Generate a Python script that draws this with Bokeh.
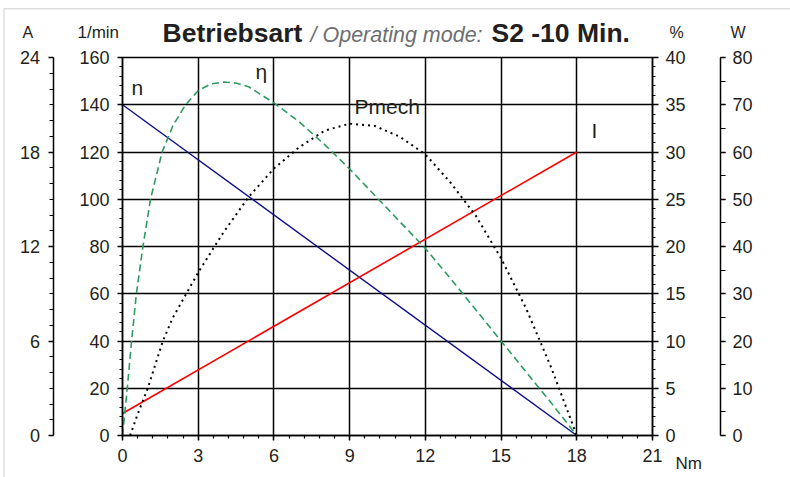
from bokeh.plotting import figure
from bokeh.models import Range1d, LinearAxis, SingleIntervalTicker, Label, Grid, BoxAnnotation
from bokeh.embed import file_html
from bokeh.resources import INLINE

# ---- data ----
torque_n = [0, 18]
speed = [140, 0]                      # 1/min

torque_i = [0, 18]
current = [1.4, 18]                   # A

torque_eta = [0, 0.19, 0.36, 0.55, 0.81, 1.11, 1.57, 2, 2.5, 3, 3.5, 4, 4.5, 5,
              6, 7, 8, 9, 10, 11, 12, 13, 14, 15, 16, 17, 18]
eta = [0, 5, 10, 15, 20, 25, 30, 32.8, 35, 36.5, 37.2, 37.4, 37.3, 36.9,
       35.2, 33.2, 30.8, 28.2, 25.4, 22.6, 19.8, 16.6, 13.3, 10, 6.7, 3.4, 0]   # %

torque_p = [0.3, 0.6, 1, 1.6, 2, 3, 4, 5, 6, 7, 8, 9, 10, 11, 12, 13, 14, 15, 16, 17, 18]
pmech = [0, 4.5, 10, 20, 25, 34.5, 43, 50.5, 56.5, 61, 64.5, 66, 65.5, 63.2, 59.5,
         53.5, 46.5, 37.5, 26.8, 14.2, 0]                                        # W

x_ticks = [0, 3, 6, 9, 12, 15, 18, 21]
y_ticks = [0, 20, 40, 60, 80, 100, 120, 140, 160]

FONT = "Liberation Sans"
TXT = "#231f20"

# the plotting frame covers the whole canvas; axes are placed at fixed locations
W_PX, H_PX = 790, 477
X0_PX, XPU = 122.0, 530.0 / 21      # px of x=0, px per Nm
Y0_PX, YPU = 435.0, 378.0 / 160     # px of y=0, px per 1/min


def xr(px):
    return (px - X0_PX) / XPU


def yr(px, scale=1.0):
    return (Y0_PX - px) / YPU * scale


p = figure(width=W_PX, height=H_PX, output_backend="svg", toolbar_location=None,
           x_range=Range1d(xr(0), xr(W_PX)), y_range=Range1d(yr(H_PX), yr(0)),
           min_border=0, min_border_left=0, min_border_right=0,
           min_border_top=0, min_border_bottom=0,
           background_fill_color="white", border_fill_color="white")
p.outline_line_color = None

p.extra_y_ranges = {
    "A": Range1d(yr(H_PX, 0.15), yr(0, 0.15)),
    "pct": Range1d(yr(H_PX, 0.25), yr(0, 0.25)),
    "W": Range1d(yr(H_PX, 0.5), yr(0, 0.5)),
}


def style_axis(ax, tick_out, minor_out, standoff):
    ax.axis_line_color = "black"
    ax.axis_line_width = 1.5
    ax.major_tick_line_color = "black"
    ax.major_tick_line_width = 1.5
    ax.minor_tick_line_color = "black"
    ax.minor_tick_line_width = 1.2
    ax.major_tick_in = 0
    ax.major_tick_out = tick_out
    ax.minor_tick_in = 0
    ax.minor_tick_out = minor_out
    ax.major_label_standoff = standoff
    ax.major_label_text_font = FONT
    ax.major_label_text_font_size = "18px"
    ax.major_label_text_color = TXT


xax = p.xaxis[0]
xax.ticker = SingleIntervalTicker(interval=3, num_minor_ticks=5)
xax.fixed_location = 0
xax.bounds = (0, 21)
style_axis(xax, 5, 3, 8)

yax = p.yaxis[0]
yax.ticker = SingleIntervalTicker(interval=20, num_minor_ticks=5)
yax.fixed_location = 0
yax.bounds = (0, 160)
style_axis(yax, 5, 3, 8)

ax_a = LinearAxis(y_range_name="A", ticker=SingleIntervalTicker(interval=6, num_minor_ticks=6),
                  fixed_location=xr(52.5), bounds=(0, 24))
style_axis(ax_a, 5, 4, 8)
p.add_layout(ax_a, "left")

ax_pct = LinearAxis(y_range_name="pct", ticker=SingleIntervalTicker(interval=5, num_minor_ticks=5),
                    fixed_location=21, bounds=(0, 40))
style_axis(ax_pct, 6, 3, 7)
p.add_layout(ax_pct, "right")

ax_w = LinearAxis(y_range_name="W", ticker=SingleIntervalTicker(interval=10, num_minor_ticks=2),
                  fixed_location=xr(720), bounds=(0, 80))
style_axis(ax_w, 5, 5, 7)
p.add_layout(ax_w, "right")

# grid limited to the chart box
if "cross_bounds" in Grid.properties():
    p.xgrid.ticker = SingleIntervalTicker(interval=3)
    p.ygrid.ticker = SingleIntervalTicker(interval=20)
    p.xgrid.bounds = (0, 21)
    p.ygrid.bounds = (0, 160)
    p.xgrid.cross_bounds = (0, 160)
    p.ygrid.cross_bounds = (0, 21)
    for g in (p.xgrid[0], p.ygrid[0]):
        g.grid_line_color = "black"
        g.grid_line_width = 1.5
        g.grid_line_alpha = 1.0
else:
    p.xgrid.visible = False
    p.ygrid.visible = False
    p.segment(x0=x_ticks, y0=[y_ticks[0]] * len(x_ticks), x1=x_ticks,
              y1=[y_ticks[-1]] * len(x_ticks), line_color="black", line_width=1.5)
    p.segment(x0=[x_ticks[0]] * len(y_ticks), y0=y_ticks, x1=[x_ticks[-1]] * len(y_ticks),
              y1=y_ticks, line_color="black", line_width=1.5)

# page frame (thin grey border at top/left)
p.add_layout(BoxAnnotation(left=xr(3.5), right=xr(W_PX + 20), top=yr(8.3), bottom=yr(H_PX + 20),
                           fill_alpha=0, line_color="#5e5e5e", line_width=1))

# curves
p.line(torque_n, speed, line_color="#0d0d8a", line_width=1.4)
p.line(torque_i, current, y_range_name="A", line_color="#ff0000", line_width=1.6)
p.line(torque_eta, eta, y_range_name="pct", line_color="#2e9a62", line_width=1.6,
       line_dash="7 4")
p.line(torque_p, pmech, y_range_name="W", line_color="black", line_width=2,
       line_dash="2 4")


def lab(xpx, ypx, text, size=21, style="normal", color=TXT):
    shift = 0.38 * size          # baseline correction for labels
    p.add_layout(Label(x=xr(xpx), y=yr(ypx - shift), text=text, text_font=FONT,
                       text_font_size=f"{size}px", text_font_style=style, text_color=color,
                       text_baseline="alphabetic", text_align="left"))


# curve labels
lab(131, 95, "n")
lab(255, 79, "η")
lab(354, 114, "Pmech")
lab(591, 138, "I")

# title
lab(162, 43, "Betriebsart", size=26.5, style="bold")
lab(310, 43, "/ Operating mode:", size=21.5, style="italic", color="#6d6e70")
lab(491, 43, "S2 -10 Min.", size=26.5, style="bold")

# unit labels
lab(22, 38, "A", size=16)
lab(77, 38, "1/min", size=17)
lab(669, 38, "%", size=16)
lab(730, 38, "W", size=16)
lab(675, 469, "Nm", size=17)

open("out.html", "w").write(file_html(p, INLINE))
